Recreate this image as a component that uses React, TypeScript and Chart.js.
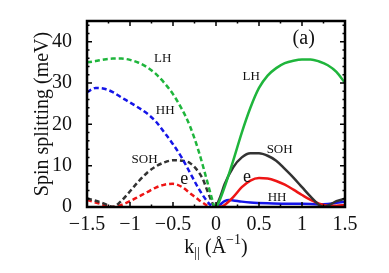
import React, { useEffect, useRef } from "react";
import { Chart, registerables } from "chart.js";

Chart.register(...registerables);

// ---- data (k in 1/Å, spin splitting in meV) ----
const kLHLeft = [-1.5, -1.4, -1.3, -1.2, -1.1, -1.0, -0.9, -0.8, -0.7, -0.6, -0.5, -0.4, -0.35, -0.3, -0.25, -0.2, -0.15, -0.1, -0.05, -0.02];
const lhLeft = [35.0, 35.3, 35.7, 35.9, 35.9, 35.6, 34.9, 33.8, 32.2, 30.0, 27.3, 23.8, 21.8, 19.4, 16.6, 13.4, 9.8, 6.0, 2.2, 0];

const kHHLeft = [-1.5, -1.45, -1.4, -1.3, -1.2, -1.1, -1.0, -0.9, -0.8, -0.7, -0.6, -0.5, -0.4, -0.3, -0.2, -0.1, -0.05, -0.03];
const hhLeft = [27.7, 28.4, 28.8, 28.6, 27.8, 26.5, 25.3, 24.0, 22.6, 20.7, 18.0, 15.2, 12.0, 8.2, 4.4, 1.3, 0.2, 0];

const kSOHLeft = [-1.5, -1.4, -1.3, -1.2, -1.1, -1.0, -0.9, -0.8, -0.7, -0.6, -0.5, -0.4, -0.3, -0.2, -0.15, -0.1, -0.05, -0.02];
const sohLeft = [2.1, 1.5, 0.8, 0.05, 1.5, 3.8, 6.2, 8.3, 9.8, 10.8, 11.3, 11.2, 10.6, 8.4, 6.6, 3.9, 1.3, 0];

const kELeft = [-1.5, -1.4, -1.3, -1.2, -1.1, -1.0, -0.9, -0.8, -0.7, -0.6, -0.5, -0.4, -0.3, -0.2, -0.1, -0.08];
const eLeft = [1.7, 1.1, 0.5, 0.0, 0.5, 1.4, 2.5, 3.6, 4.7, 5.4, 5.6, 4.9, 3.3, 1.7, 0.3, 0];

const kLHRight = [0, 0.03, 0.1, 0.2, 0.3, 0.4, 0.5, 0.6, 0.7, 0.8, 0.9, 1.0, 1.1, 1.2, 1.3, 1.4, 1.5];
const lhRight = [0, 1.0, 4.8, 11.2, 18.0, 24.0, 28.8, 31.8, 33.6, 34.8, 35.4, 35.7, 35.7, 35.2, 34.3, 32.7, 30.0];

const kSOHRight = [0, 0.05, 0.1, 0.2, 0.3, 0.4, 0.5, 0.6, 0.7, 0.8, 0.9, 1.0, 1.1, 1.2, 1.25, 1.3, 1.4, 1.5];
const sohRight = [0, 2.5, 5.5, 9.6, 12.0, 13.0, 13.0, 12.4, 11.2, 9.2, 7.1, 4.8, 2.5, 0.5, 0, 0.3, 1.4, 2.0];

const kERight = [0, 0.05, 0.1, 0.2, 0.3, 0.4, 0.5, 0.6, 0.7, 0.8, 0.9, 1.0, 1.1, 1.2, 1.3, 1.4, 1.5];
const eRight = [0, 0.05, 0.5, 2.4, 4.8, 6.4, 7.0, 6.9, 6.3, 5.4, 4.2, 2.9, 1.7, 0.8, 0.3, 0.3, 0.5];

const kHHRight = [0, 0.05, 0.1, 0.15, 0.2, 0.3, 0.4, 0.6, 0.8, 1.0, 1.2, 1.3, 1.4, 1.5];
const hhRight = [0, 0.6, 1.4, 1.7, 1.6, 1.3, 1.1, 0.9, 0.8, 0.8, 0.6, 0.7, 1.0, 1.3];

// ---- ticks ----
const xTickValues = [-1.5, -1, -0.5, 0, 0.5, 1, 1.5];
const xTickLabels = ["\u22121.5", "\u22121", "\u22120.5", "0", "0.5", "1", "1.5"];
const yTickValues = [0, 10, 20, 30, 40];
const yTickLabels = ["0", "10", "20", "30", "40"];
const xMinorStep = 0.25;
const yMinorStep = 2;

// ---- annotations ----
const noteTexts = ["LH", "HH", "SOH", "e", "LH", "SOH", "e", "HH", "(a)"];
const noteX = [-0.62, -0.59, -0.83, -0.37, 0.41, 0.74, 0.36, 0.71, 1.02];
const noteY = [35.8, 23.4, 11.5, 6.8, 31.5, 13.9, 7.3, 2.4, 40.7];
const noteSize = [13, 13, 13, 18, 13, 13, 18, 13, 20];

const GREEN = "#1fb53c";
const BLUE = "#1515e8";
const RED = "#ee1515";
const BLACK = "#333333";
const SERIF = "'Liberation Serif', 'Times New Roman', serif";

const pts = (ks: number[], vs: number[]) => ks.map((k, i) => ({ x: k, y: vs[i] }));

const framePlugin = {
  id: "frame",
  afterDraw(chart: any) {
    const { ctx, chartArea: a, scales } = chart;
    const xs = scales.x;
    const ys = scales.y;
    ctx.save();
    // annotations
    ctx.fillStyle = "#111";
    ctx.textAlign = "center";
    ctx.textBaseline = "middle";
    noteTexts.forEach((t, i) => {
      ctx.font = `${noteSize[i]}px ${SERIF}`;
      ctx.fillText(t, xs.getPixelForValue(noteX[i]), ys.getPixelForValue(noteY[i]));
    });
    // ticks
    ctx.strokeStyle = "#000";
    ctx.lineWidth = 1.5;
    const major = 5;
    const minor = 2.5;
    const nx = Math.round((xs.max - xs.min) / xMinorStep);
    for (let i = 0; i <= nx; i++) {
      const v = xs.min + i * xMinorStep;
      const isMajor = xTickValues.some((t) => Math.abs(t - v) < 1e-6);
      const len = isMajor ? major : minor;
      const px = xs.getPixelForValue(v);
      ctx.beginPath();
      ctx.moveTo(px, a.bottom);
      ctx.lineTo(px, a.bottom - len);
      ctx.moveTo(px, a.top);
      ctx.lineTo(px, a.top + len);
      ctx.stroke();
    }
    const ny = Math.floor((ys.max - ys.min) / yMinorStep);
    for (let i = 0; i <= ny; i++) {
      const v = ys.min + i * yMinorStep;
      const isMajor = yTickValues.some((t) => Math.abs(t - v) < 1e-6);
      const len = isMajor ? major : minor;
      const py = ys.getPixelForValue(v);
      ctx.beginPath();
      ctx.moveTo(a.left, py);
      ctx.lineTo(a.left + len, py);
      ctx.moveTo(a.right, py);
      ctx.lineTo(a.right - len, py);
      ctx.stroke();
    }
    // frame
    ctx.lineWidth = 2.5;
    ctx.strokeRect(a.left, a.top, a.right - a.left, a.bottom - a.top);

    // axis titles
    ctx.fillStyle = "#111";
    ctx.textBaseline = "alphabetic";
    ctx.textAlign = "left";
    const cx = (a.left + a.right) / 2;
    const base = 253;
    ctx.font = `20px ${SERIF}`;
    const wK = ctx.measureText("k").width;
    ctx.font = `14px ${SERIF}`;
    const wSub = ctx.measureText("||").width;
    ctx.font = `20px ${SERIF}`;
    const wOpen = ctx.measureText(" (\u00C5").width;
    ctx.font = `14px ${SERIF}`;
    const wSup = ctx.measureText("\u22121").width;
    ctx.font = `20px ${SERIF}`;
    const wClose = ctx.measureText(")").width;
    let x0 = cx - (wK + wSub + wOpen + wSup + wClose) / 2;
    ctx.fillText("k", x0, base);
    x0 += wK;
    ctx.font = `14px ${SERIF}`;
    ctx.fillText("||", x0, base + 4);
    x0 += wSub;
    ctx.font = `20px ${SERIF}`;
    ctx.fillText(" (\u00C5", x0, base);
    x0 += wOpen;
    ctx.font = `14px ${SERIF}`;
    ctx.fillText("\u22121", x0, base - 9);
    x0 += wSup;
    ctx.font = `20px ${SERIF}`;
    ctx.fillText(")", x0, base);

    ctx.translate(43, (a.top + a.bottom) / 2);
    ctx.rotate(-Math.PI / 2);
    ctx.textAlign = "center";
    ctx.textBaseline = "middle";
    ctx.font = `20px ${SERIF}`;
    ctx.fillText("Spin splitting (meV)", 0, 0);
    ctx.restore();
  },
};

export default function App() {
  const ref = useRef<HTMLCanvasElement | null>(null);

  useEffect(() => {
    if (!ref.current) return;
    const mk = (label: string, ks: number[], vs: number[], color: string, dashed: boolean) => ({
      label,
      data: pts(ks, vs),
      borderColor: color,
      borderWidth: 2.5,
      borderDash: dashed ? [5, 3] : [],
      pointRadius: 0,
      fill: false,
      cubicInterpolationMode: "monotone" as const,
    });
    const chart = new Chart(ref.current, {
      type: "line",
      data: {
        datasets: [
          mk("LH left", kLHLeft, lhLeft, GREEN, true),
          mk("HH left", kHHLeft, hhLeft, BLUE, true),
          mk("SOH left", kSOHLeft, sohLeft, BLACK, true),
          mk("e left", kELeft, eLeft, RED, true),
          mk("LH right", kLHRight, lhRight, GREEN, false),
          mk("SOH right", kSOHRight, sohRight, BLACK, false),
          mk("e right", kERight, eRight, RED, false),
          mk("HH right", kHHRight, hhRight, BLUE, false),
        ],
      },
      options: {
        responsive: false,
        animation: false,
        layout: { padding: { top: 21, right: 44, left: 0, bottom: 0 } },
        plugins: { legend: { display: false }, tooltip: { enabled: false } },
        scales: {
          x: {
            type: "linear",
            min: -1.5,
            max: 1.5,
            grid: { display: false },
            border: { display: false },
            afterBuildTicks: (s: any) => {
              s.ticks = xTickValues.map((v) => ({ value: v }));
            },
            afterFit: (s: any) => {
              s.height = 66;
            },
            ticks: {
              autoSkip: false,
              maxRotation: 0,
              padding: -2,
              color: "#111",
              font: { family: SERIF, size: 20 },
              callback: (v: any) => {
                const i = xTickValues.findIndex((t) => Math.abs(t - Number(v)) < 1e-6);
                return i >= 0 ? xTickLabels[i] : "";
              },
            },
          },
          y: {
            type: "linear",
            min: 0,
            max: 45,
            grid: { display: false },
            border: { display: false },
            afterBuildTicks: (s: any) => {
              s.ticks = yTickValues.map((v) => ({ value: v }));
            },
            afterFit: (s: any) => {
              s.width = 87;
            },
            ticks: {
              autoSkip: false,
              padding: 7,
              color: "#111",
              font: { family: SERIF, size: 20 },
              callback: (v: any) => {
                const i = yTickValues.findIndex((t) => Math.abs(t - Number(v)) < 1e-6);
                return i >= 0 ? yTickLabels[i] : "";
              },
            },
          },
        },
      },
      plugins: [framePlugin],
    });
    return () => chart.destroy();
  }, []);

  return (
    <div style={{ position: "absolute", left: 0, top: 0, width: 389, height: 273, background: "#fff" }}>
      <canvas ref={ref} width={389} height={273} style={{ display: "block", width: 389, height: 273 }} />
    </div>
  );
}
